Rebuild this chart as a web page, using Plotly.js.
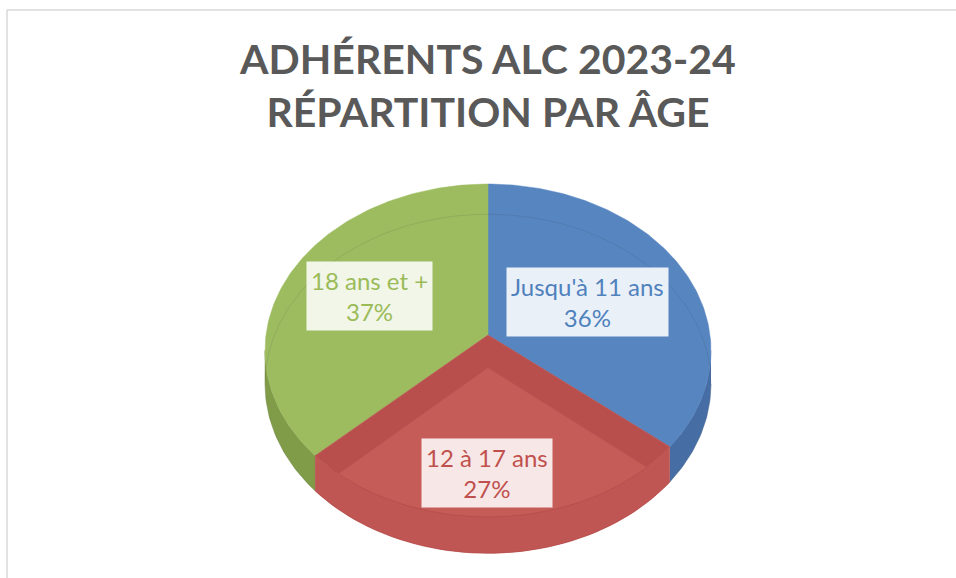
<!DOCTYPE html>
<html>
<head>
<meta charset="utf-8">
<script src="https://cdn.plot.ly/plotly-3.0.1.min.js"></script>
<style>html,body{margin:0;padding:0;background:#fff;}#chart{width:956px;height:578px;}</style>
</head>
<body>
<div id="chart"></div>
<script>
// ---- data ----
const categories = ["Jusqu'à 11 ans", "12 à 17 ans", "18 ans et +"];
const values = [36, 27, 37];
const titleText = "ADHÉRENTS ALC 2023-24<br>RÉPARTITION PAR ÂGE";

// ---- style ----
const topColors  = ["rgb(86,133,192)", "rgb(185,79,77)", "rgb(157,188,96)"];
const sideColors = ["rgb(70,110,165)", "rgb(192,86,83)", "rgb(128,156,72)"];
const textColors = ["rgb(79,129,189)", "rgb(192,80,77)", "rgb(155,187,89)"];
const boxColors  = ["rgba(255,255,255,0.88)", "rgba(255,255,255,0.86)", "rgba(255,255,255,0.86)"];
const innerRed = "rgb(197,92,88)";

// geometry of the 3D projected disc (pixel space of the plot)
const CX = 488, CY = 335, R = 222, RY = 165, K = 0.093, H = 33;
function proj(r, deg, drop) {
  const th = deg * Math.PI / 180;
  const X = r * Math.sin(th), t = r * Math.cos(th);
  const s = 1 / (1 + K * t);
  return [CX + R * X * s, CY - RY * t * s + drop * s];
}
function arc(a0, a1, drop) {
  const pts = [];
  const n = Math.max(2, Math.ceil(Math.abs(a1 - a0)));
  for (let i = 0; i <= n; i++) pts.push(proj(1, a0 + (a1 - a0) * i / n, drop));
  return pts;
}
function poly(pts, color, name, lineColor) {
  return {
    type: "scatter", mode: "lines", fill: "toself",
    x: pts.map(p => p[0]), y: pts.map(p => p[1]),
    fillcolor: color, line: {color: lineColor || color, width: 0.5},
    name: name, text: name, hoverinfo: "text", showlegend: false
  };
}

// cumulative angles from the values (clockwise from 12 o'clock)
const total = values.reduce((a, b) => a + b, 0);
const starts = [], ends = [];
let acc = 0;
values.forEach(v => { starts.push(acc / total * 360); acc += v; ends.push(acc / total * 360); });

const silL = Math.acos(-K) * 180 / Math.PI;   // right silhouette
const silR = 360 - silL;                      // left silhouette

const traces = [];
// outer sides of back slices (blue / green)
[0, 2].forEach(i => {
  const a0 = Math.max(starts[i], silL), a1 = Math.min(ends[i], silR);
  if (a1 > a0) {
    const top = arc(a0, a1, 0), bot = arc(a1, a0, H);
    traces.push(poly(top.concat(bot), sideColors[i], categories[i]));
  }
});
// top faces
[0, 2, 1].forEach(i => {
  const c = proj(0, 0, 0);
  const pts = [c].concat(arc(starts[i], ends[i], 0)).concat([c]);
  traces.push(poly(pts, topColors[i], categories[i] + " " + values[i] + "%"));
});
// translucent red slice: bottom face seen through
{
  const i = 1;
  const c = proj(0, 0, H);
  const pts = [c].concat(arc(starts[i], ends[i], H)).concat([c]);
  traces.push(poly(pts, innerRed, categories[i] + " " + values[i] + "%"));
  const top = arc(starts[i], ends[i], 0), bot = arc(ends[i], starts[i], H);
  traces.push(poly(top.concat(bot), sideColors[i], categories[i], "rgba(150,50,50,0.5)"));
}
// faint bottom rim visible through the translucent blue / green tops
[0, 2].forEach(i => {
  const pts = arc(starts[i], ends[i], H);
  traces.push({
    type: "scatter", mode: "lines",
    x: pts.map(p => p[0]), y: pts.map(p => p[1]),
    line: {color: "rgba(60,60,60,0.13)", width: 1},
    hoverinfo: "skip", showlegend: false
  });
});

// label positions (layout, not data)
const labelPos = [[587, 302], [487, 473], [369, 296]];
const annotations = categories.map((c, i) => ({
  x: labelPos[i][0], y: labelPos[i][1], xref: "x", yref: "y",
  text: c + "<br>" + values[i] + "%", showarrow: false,
  font: {family: "Lato, 'Open Sans', sans-serif", size: 24, color: textColors[i]},
  bgcolor: boxColors[i], borderpad: 4, align: "center"
}));

const layout = {
  width: 956, height: 578,
  margin: {l: 0, r: 0, t: 0, b: 0},
  paper_bgcolor: "#ffffff", plot_bgcolor: "rgba(0,0,0,0)",
  title: {
    text: titleText, x: 488 / 956, xanchor: "center", y: 1 - 74 / 578, yanchor: "top",
    font: {family: "Lato, 'Open Sans', sans-serif", size: 41, color: "#595959", weight: 700}
  },
  xaxis: {range: [0, 956], visible: false, fixedrange: true},
  yaxis: {range: [578, 0], visible: false, fixedrange: true},
  showlegend: false,
  annotations: annotations,
  shapes: [
    {type: "line", xref: "x", yref: "y", x0: 7, y0: 10, x1: 956, y1: 10, line: {color: "#d9d9d9", width: 1.5}},
    {type: "line", xref: "x", yref: "y", x0: 7, y0: 10, x1: 7, y1: 578, line: {color: "#d9d9d9", width: 1.5}}
  ]
};

Plotly.newPlot("chart", traces, layout, {displayModeBar: false, staticPlot: false});
</script>
</body>
</html>
